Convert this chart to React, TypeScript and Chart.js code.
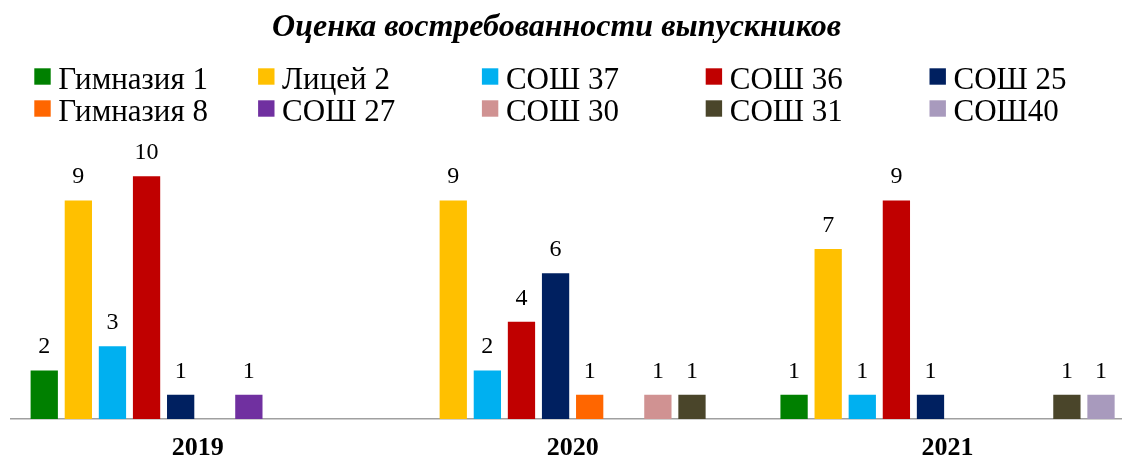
import { useEffect, useRef } from "react";
import { Chart, registerables } from "chart.js";

Chart.register(...registerables);

const TITLE = "Оценка востребованности выпускников";
const years = ["2019", "2020", "2021"];
const schools = [
  "Гимназия 1",
  "Лицей 2",
  "СОШ 37",
  "СОШ 36",
  "СОШ 25",
  "Гимназия 8",
  "СОШ 27",
  "СОШ 30",
  "СОШ 31",
  "СОШ40",
];
const gymnasium1 = [2, 0, 1];
const lyceum2 = [9, 9, 7];
const school37 = [3, 2, 1];
const school36 = [10, 4, 9];
const school25 = [1, 6, 1];
const gymnasium8 = [0, 1, 0];
const school27 = [1, 0, 0];
const school30 = [0, 1, 0];
const school31 = [0, 1, 1];
const school40 = [0, 0, 1];
const seriesValues = [
  gymnasium1,
  lyceum2,
  school37,
  school36,
  school25,
  gymnasium8,
  school27,
  school30,
  school31,
  school40,
];
const colors = [
  "#008000",
  "#FFC000",
  "#00B0F0",
  "#C00000",
  "#002060",
  "#FF6600",
  "#7030A0",
  "#D09292",
  "#4A452A",
  "#A89ABD",
];

const FONT = "'Liberation Serif', 'Times New Roman', serif";

const labelsPlugin = {
  id: "valueLabels",
  afterDatasetsDraw(chart: any) {
    const ctx = chart.ctx;
    ctx.save();
    ctx.font = `24px ${FONT}`;
    ctx.fillStyle = "#000";
    ctx.textAlign = "center";
    ctx.textBaseline = "alphabetic";
    chart.data.datasets.forEach((ds: any, di: number) => {
      const meta = chart.getDatasetMeta(di);
      meta.data.forEach((el: any, i: number) => {
        const v = ds.data[i];
        if (!v) return;
        ctx.fillText(String(v), el.x, el.y - 17);
      });
    });
    ctx.restore();
  },
};

const headerPlugin = {
  id: "header",
  afterDraw(chart: any) {
    const ctx = chart.ctx;
    ctx.save();
    ctx.fillStyle = "#000";
    ctx.font = `bold italic 32px ${FONT}`;
    ctx.textAlign = "center";
    ctx.textBaseline = "alphabetic";
    ctx.fillText(TITLE, 556.5, 36);
    ctx.font = `31px ${FONT}`;
    ctx.textAlign = "left";
    chart.data.datasets.forEach((ds: any, i: number) => {
      const row = Math.floor(i / 5);
      const col = i % 5;
      const x = 34.3 + col * 223.8;
      ctx.fillStyle = ds.backgroundColor;
      ctx.fillRect(x, 68.3 + row * 32, 16.4, 16.4);
      ctx.fillStyle = "#000";
      ctx.fillText(ds.label, x + 24, 88.5 + row * 32);
    });
    ctx.restore();
  },
};

export default function App() {
  const ref = useRef<HTMLCanvasElement | null>(null);
  useEffect(() => {
    if (!ref.current) return;
    const chart = new Chart(ref.current, {
      type: "bar",
      data: {
        labels: years,
        datasets: schools.map((name, i) => ({
          label: name,
          data: seriesValues[i],
          backgroundColor: colors[i],
          borderWidth: 0,
          barPercentage: 0.8,
          categoryPercentage: 0.9096,
        })),
      },
      options: {
        animation: false,
        responsive: false,
        devicePixelRatio: 1,
        layout: { padding: { left: 10.25, right: 5, top: 127.6, bottom: 10 } },
        plugins: {
          legend: { display: false },
          title: { display: false },
          tooltip: { enabled: false },
        },
        scales: {
          x: {
            grid: { display: false, drawTicks: false },
            border: { display: true, color: "#A0A0A0", width: 1.5 },
            ticks: {
              color: "#000",
              padding: 16,
              font: { family: FONT, size: 26, weight: "bold", lineHeight: 1 },
            },
          },
          y: { display: false, min: 0, max: 12 },
        },
      },
      plugins: [labelsPlugin, headerPlugin],
    });
    return () => chart.destroy();
  }, []);
  return (
    <div
      style={{
        position: "fixed",
        left: 0,
        top: 0,
        width: 1122,
        height: 459,
        overflow: "hidden",
        background: "#fff",
      }}
    >
      <canvas
        ref={ref}
        width={1140}
        height={487}
        style={{ position: "absolute", left: 0, top: 0, width: 1140, height: 487 }}
      />
    </div>
  );
}
